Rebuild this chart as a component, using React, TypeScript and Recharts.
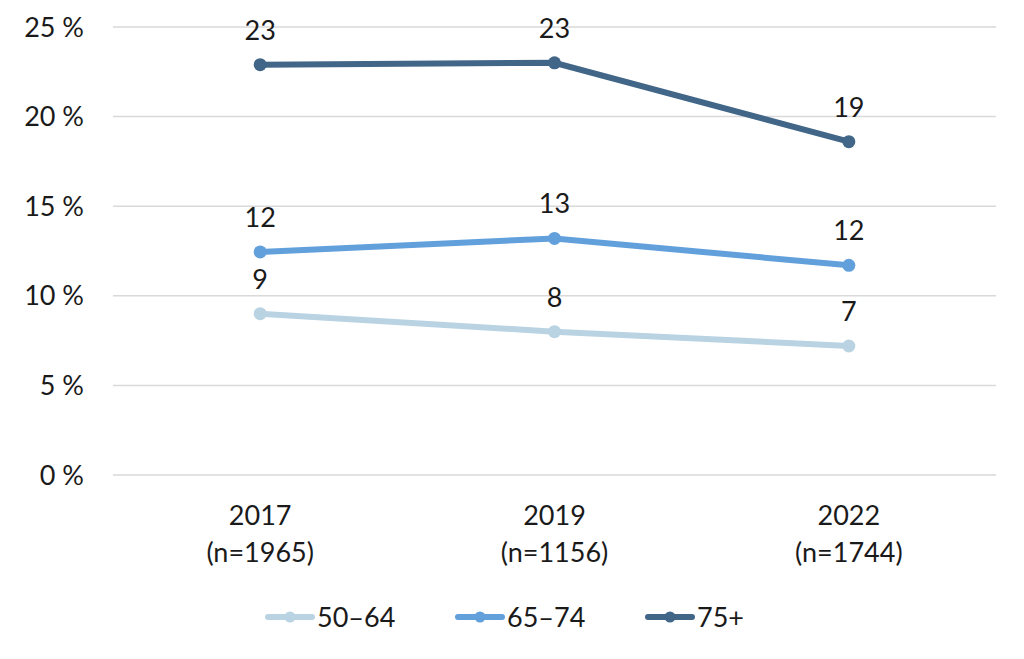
import React from 'react';
import { LineChart, Line, XAxis, YAxis, CartesianGrid, Legend, LabelList } from 'recharts';

const years = ['2017', '2019', '2022'];
const sampleSizes = ['(n=1965)', '(n=1156)', '(n=1744)'];
const series5064 = [9.0, 8.0, 7.2];
const series6574 = [12.45, 13.2, 11.7];
const series75 = [22.9, 23.0, 18.6];
const yTicks = [0, 5, 10, 15, 20, 25];

const seriesInfo = [
  { key: 's1', name: '50–64', color: '#B9D3E3' },
  { key: 's2', name: '65–74', color: '#62A0DC' },
  { key: 's3', name: '75+', color: '#426688' },
];

const data = years.map((y, i) => ({
  year: y,
  n: sampleSizes[i],
  s1: series5064[i],
  s2: series6574[i],
  s3: series75[i],
}));

const FONT = 'Lato, "Open Sans", sans-serif';
const TEXT = '#1a1a1a';
const FS = 27;

const XTick = (props: any) => {
  const { x, y, payload, index } = props;
  return (
    <text x={x} y={y} textAnchor="middle" fontFamily={FONT} fontSize={FS} fill={TEXT}>
      <tspan x={x} dy={42}>{payload.value}</tspan>
      <tspan x={x} dy={37}>{sampleSizes[index]}</tspan>
    </text>
  );
};

const LegendContent = () => (
  <div style={{ position: 'relative', height: 30 }}>
    {seriesInfo.map((s, i) => (
      <div
        key={s.key}
        style={{
          position: 'absolute',
          left: 264 + i * 190,
          top: 0,
          display: 'flex',
          alignItems: 'center',
          fontFamily: FONT,
          fontSize: FS,
          color: TEXT,
        }}
      >
        <svg width={53} height={16}>
          <line x1={4} y1={8} x2={48} y2={8} stroke={s.color} strokeWidth={6} strokeLinecap="round" />
          <circle cx={26} cy={8} r={5.5} fill={s.color} />
        </svg>
        <span>{s.name}</span>
      </div>
    ))}
  </div>
);

export default function App() {
  return (
    <div style={{ position: 'absolute', left: 0, top: 0, background: '#fff' }}>
      <LineChart
        width={1024}
        height={659}
        data={data}
        margin={{ top: 27, right: 28, bottom: 0, left: 0 }}
      >
        <CartesianGrid vertical={false} stroke="#d9d9d9" strokeWidth={1.5} />
        <XAxis
          dataKey="year"
          scale="band"
          axisLine={false}
          tickLine={false}
          tick={<XTick />}
          height={154}
          interval={0}
        />
        <YAxis
          domain={[0, 25]}
          ticks={yTicks}
          width={113}
          axisLine={false}
          tickLine={false}
          tickSize={0}
          tickMargin={29}
          tickFormatter={(v: number) => `${v} %`}
          tick={{ fontFamily: FONT, fontSize: FS, fill: TEXT }}
        />
        {seriesInfo.map((s) => (
          <Line
            key={s.key}
            dataKey={s.key}
            name={s.name}
            stroke={s.color}
            strokeWidth={6}
            dot={{ r: 6.5, fill: s.color, stroke: s.color, strokeWidth: 0 }}
            activeDot={false}
            isAnimationActive={false}
          >
            <LabelList
              dataKey={s.key}
              position="top"
              offset={25}
              formatter={(v: number) => Math.round(v)}
              style={{ fontFamily: FONT, fontSize: FS, fill: TEXT }}
            />
          </Line>
        ))}
        <Legend
          content={<LegendContent />}
          wrapperStyle={{ position: 'absolute', left: 0, top: 600, width: 1024 }}
        />
      </LineChart>
    </div>
  );
}
